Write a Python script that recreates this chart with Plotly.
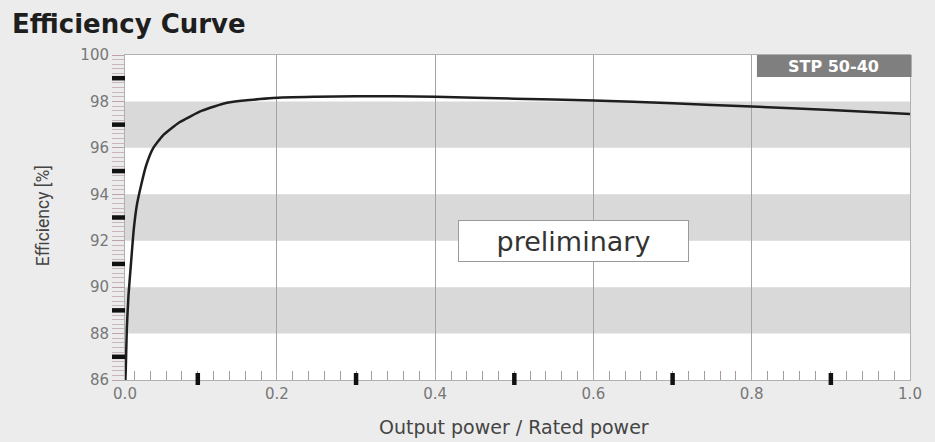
import plotly.graph_objects as go

# Data
load_ratio = [0.0085, 0.0090, 0.0103, 0.0124, 0.0157, 0.0191, 0.0229, 0.0283, 0.0347,
              0.0431, 0.0558, 0.0769, 0.1054, 0.137, 0.195, 0.250, 0.300, 0.350,
              0.400, 0.500, 0.600, 0.700, 0.800, 0.900, 1.000]
efficiency = [86.0, 86.5, 88.2, 89.65, 91.08, 92.5, 93.52, 94.38, 95.24,
              95.96, 96.53, 97.1, 97.6, 97.94, 98.15, 98.2, 98.22, 98.22,
              98.2, 98.12, 98.04, 97.92, 97.78, 97.63, 97.46]

x_range = [0.008, 1.0]
x_tick_vals = [0.008, 0.2, 0.4, 0.6, 0.8, 1.0]
x_tick_text = ["0.0", "0.2", "0.4", "0.6", "0.8", "1.0"]
y_tick_vals = [86, 88, 90, 92, 94, 96, 98, 100]
y_tick_text = ["86", "88", "90", "92", "94", "96", "98", "100"]
x_bold_ticks = [0.1, 0.3, 0.5, 0.7, 0.9]
y_bold_ticks = [87, 89, 91, 93, 95, 97, 99]
gray_bands = [(88, 90), (92, 94), (96, 98)]

title_text = "Efficiency Curve"
model_label = "STP 50-40"
stamp_label = "preliminary"
x_title = "Output power / Rated power"
y_title = "Efficiency [%]"

FONT = "DejaVu Sans, sans-serif"

fig = go.Figure()

fig.add_trace(go.Scatter(
    x=load_ratio, y=efficiency, mode="lines",
    line=dict(color="#1e1e1e", width=2.5, shape="spline", smoothing=0.5),
    hoverinfo="skip", showlegend=False,
))

shapes = []
for lo, hi in gray_bands:
    shapes.append(dict(type="rect", xref="paper", yref="y", x0=0, x1=1, y0=lo, y1=hi,
                       fillcolor="#d9d9d9", line=dict(width=0), layer="below"))
# bold tick marks (pixel-sized, anchored on the data values)
for xv in x_bold_ticks:
    shapes.append(dict(type="line", xref="x", yref="paper", x0=xv, x1=xv,
                       ysizemode="pixel", yanchor=0, y0=-5, y1=7,
                       line=dict(color="#111111", width=4.5)))
for yv in y_bold_ticks:
    shapes.append(dict(type="line", xref="paper", yref="y", y0=yv, y1=yv,
                       xsizemode="pixel", xanchor=0, x0=-13, x1=0,
                       line=dict(color="#111111", width=4.5)))
shapes.append(dict(type="rect", xref="paper", yref="paper", x0=0.805, x1=1.002,
                   y0=0.932, y1=1.0, fillcolor="#7f7f7f", line=dict(width=0)))
fig.update_layout(shapes=shapes)

annotations = [
    dict(text=f"<b>{title_text}</b>", xref="paper", yref="paper", x=-0.1465, y=1.095,
         xanchor="left", yanchor="middle", showarrow=False,
         font=dict(family=FONT, size=26, color="#1e1e1e")),
    dict(text=f"<b>{model_label}</b>", xref="paper", yref="paper", x=0.903, y=0.966,
         xanchor="center", yanchor="middle", showarrow=False,
         font=dict(family=FONT, size=16, color="#ffffff")),
    dict(text=stamp_label, xref="paper", yref="paper", x=0.5713, y=0.4277,
         xanchor="center", yanchor="middle", showarrow=False,
         width=227, height=38, bgcolor="#ffffff", bordercolor="#9a9a9a", borderwidth=1,
         font=dict(family=FONT, size=27, color="#333333")),
    dict(text=x_title, xref="paper", yref="paper", x=0.495, y=-0.145,
         xanchor="center", yanchor="middle", showarrow=False,
         font=dict(family=FONT, size=19, color="#444444")),
    dict(text=y_title, xref="paper", yref="paper", x=-0.104, y=0.505, textangle=-90,
         xanchor="center", yanchor="middle", showarrow=False,
         font=dict(family="Roboto, sans-serif", size=17.5, color="#444444")),
]
fig.update_layout(annotations=annotations)

fig.update_xaxes(
    range=x_range, tickvals=x_tick_vals, ticktext=x_tick_text,
    showgrid=True, gridcolor="#a3a3a3", gridwidth=1.3,
    zeroline=False, showline=True, linecolor="#b0b0b0", linewidth=1, mirror=True,
    ticks="inside", ticklen=9, tickcolor="#b8a8b0",
    minor=dict(dtick=0.02, tick0=0, ticks="inside", ticklen=9, tickcolor="#a898a8",
               showgrid=False),
    tickfont=dict(family=FONT, size=15, color="#777777"),
    fixedrange=True,
)
fig.update_yaxes(
    range=[86, 100], tickvals=y_tick_vals, ticktext=y_tick_text,
    showgrid=False, zeroline=False, showline=True, linecolor="#b0b0b0", linewidth=1,
    mirror=True, ticks="outside", ticklen=12, tickcolor="#c0a0aa",
    minor=dict(dtick=0.2, ticks="outside", ticklen=12, tickcolor="#ccb4bc"),
    tickfont=dict(family=FONT, size=15, color="#777777"),
    fixedrange=True,
)

fig.update_layout(
    width=935, height=442,
    margin=dict(l=125, r=25, t=55, b=62),
    paper_bgcolor="#ececec", plot_bgcolor="#ffffff",
    showlegend=False,
)

fig.write_html(
    "out.html",
    config={"displayModeBar": False},
    post_script="document.body.style.margin='0';document.body.style.overflow='hidden';",
)
